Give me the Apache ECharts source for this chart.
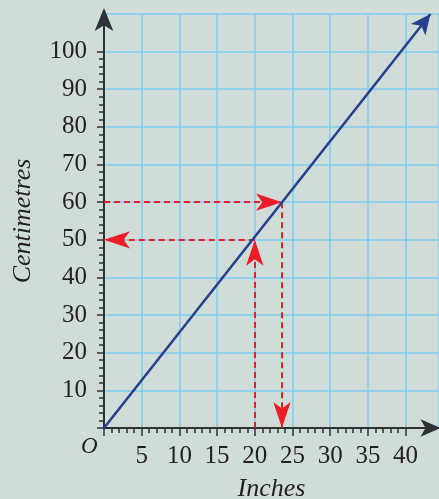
<!DOCTYPE html>
<html><head><meta charset="utf-8">
<script src="https://cdn.jsdelivr.net/npm/echarts@6/dist/echarts.min.js"></script>
<style>html,body{margin:0;padding:0;background:#d0dcd8}#c{width:439px;height:499px}</style>
</head><body><div id="c"></div>
<script>
// ---- data ----
const xAxisTitle = 'Inches';
const yAxisTitle = 'Centimetres';
const originLabel = 'O';
const xTickLabels = ['', '5', '10', '15', '20', '25', '30', '35', '40'];   // 0..40 step 5
const yTickLabels = ['', '10', '20', '30', '40', '50', '60', '70', '80', '90', '100']; // 0..100 step 10
const conversionX = [0, 43.3];      // inches
const conversionY = [0, 110];       // centimetres (1 in = 2.54 cm)
const readCm = [23.6, 60];          // 60 cm -> 23.6 in
const readIn = [20, 50];            // 20 in -> ~50 cm

const font = 'Liberation Serif';
const ink = '#231f20';
const axisCol = '#2c3236';
const gridCol = '#7fcdef';
const red = '#ee1c25';
const blue = '#24408e';

const chart = echarts.init(document.getElementById('c'));
const pxX = 7.54, pxY = 3.764, ox = 104, oy = 428;

chart.setOption({
  backgroundColor: '#d0dcd8',
  animation: false,
  grid: [
    {left: ox, top: oy - 110 * pxY, width: 439 - ox, height: 110 * pxY, outerBoundsMode: 'none', containLabel: false},
    {left: ox, top: oy - 100 * pxY, width: 40 * pxX, height: 100 * pxY, outerBoundsMode: 'none', containLabel: false}
  ],
  xAxis: [
    {gridIndex: 0, type: 'value', min: 0, max: (439 - ox) / pxX, interval: 5,
     axisLine: {show: true, lineStyle: {color: axisCol, width: 2}, symbol: ['none', 'arrow'], symbolSize: [13, 20], symbolOffset: [0, 1.5]},
     axisTick: {show: false}, axisLabel: {show: false},
     splitLine: {show: true, lineStyle: {color: gridCol, width: 1.5}},
     name: xAxisTitle, nameLocation: 'middle', nameGap: 48,
     nameTextStyle: {fontFamily: font, fontStyle: 'italic', fontSize: 26, color: ink}},
    {gridIndex: 1, type: 'value', min: 0, max: 40, interval: 5,
     axisLine: {show: false},
     axisTick: {show: true, length: 8, lineStyle: {color: axisCol, width: 1.5}},
     minorTick: {show: true, splitNumber: 5, length: 5, lineStyle: {color: axisCol, width: 1.5}},
     splitLine: {show: false},
     axisLabel: {margin: 16, fontFamily: font, fontSize: 25, color: ink,
       formatter: (v) => xTickLabels[Math.round(v / 5)] || ''}}
  ],
  yAxis: [
    {gridIndex: 0, type: 'value', min: 0, max: 110, interval: 10,
     axisLine: {show: true, lineStyle: {color: axisCol, width: 2}, symbol: ['none', 'arrow'], symbolSize: [14, 23], symbolOffset: [0, 6]},
     axisTick: {show: false}, axisLabel: {show: false},
     splitLine: {show: true, lineStyle: {color: gridCol, width: 1.5}},
     name: yAxisTitle, nameLocation: 'middle', nameGap: 68,
     nameTextStyle: {fontFamily: font, fontStyle: 'italic', fontSize: 26, color: ink}},
    {gridIndex: 1, type: 'value', min: 0, max: 100, interval: 10,
     axisLine: {show: false},
     axisTick: {show: true, length: 7, lineStyle: {color: axisCol, width: 1.5}},
     minorTick: {show: true, splitNumber: 5, length: 5, lineStyle: {color: axisCol, width: 1.5}},
     splitLine: {show: false},
     axisLabel: {margin: 17, fontFamily: font, fontSize: 25, color: ink,
       formatter: (v) => yTickLabels[Math.round(v / 10)] || ''}}
  ],
  graphic: [{type: 'text', left: 81, top: 435,
    style: {text: originLabel, font: 'italic 23px "Liberation Serif"', fill: ink}}],
  series: [
    {type: 'lines', coordinateSystem: 'cartesian2d', xAxisIndex: 0, yAxisIndex: 0, z: 2,
     symbol: ['none', 'arrow'], symbolSize: [[13, 26], [13, 26]],
     lineStyle: {color: red, width: 2, type: [6, 4], opacity: 1},
     itemStyle: {color: red},
     data: [
       {coords: [[0, readCm[1]], [readCm[0], readCm[1]]]},
       {coords: [[readCm[0], readCm[1]], [readCm[0], 0]]},
       {coords: [[readIn[0], 0], [readIn[0], readIn[1]]]},
       {coords: [[readIn[0], readIn[1]], [0, readIn[1]]]}
     ]},
    {type: 'lines', coordinateSystem: 'cartesian2d', xAxisIndex: 0, yAxisIndex: 0, z: 3,
     symbol: ['none', 'arrow'], symbolSize: [[14, 20], [14, 20]],
     lineStyle: {color: blue, width: 2.5, opacity: 1},
     data: [{coords: [[conversionX[0], conversionY[0]], [conversionX[1], conversionY[1]]]}]}
  ]
});
</script></body></html>
